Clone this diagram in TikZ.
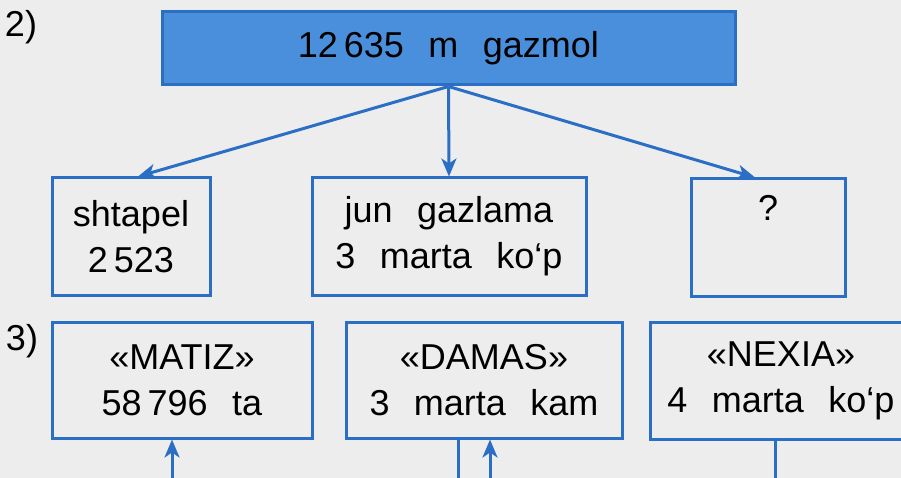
\documentclass[tikz,border=0pt]{standalone}
\usepackage{fontspec}
\setmainfont{Liberation Sans}
\usetikzlibrary{arrows.meta}
\definecolor{bfill}{HTML}{4A8FDB}
\definecolor{bline}{HTML}{2B6FC4}
\definecolor{paper}{HTML}{EDEDED}
\newcommand{\gap}{\hspace{0.68em}}
\begin{document}
\begin{tikzpicture}[x=1pt,y=-1pt,
  box/.style={draw=bline,line width=3pt,rectangle,inner sep=0pt,align=center,
    font=\fontsize{36}{46}\selectfont},
  lbl/.style={inner sep=0pt,font=\fontsize{36}{46}\selectfont},
  conn/.style={draw=bline,line width=3pt},
  arr/.style={conn,-{Stealth[length=18pt,width=15pt,inset=5pt]}}]
\fill[paper] (0,0) rectangle (901,478);
\useasboundingbox (0,0) rectangle (901,478);

\node[lbl] (n2) at (21,27) {2)};
\node[lbl] (n3) at (22,341) {3)};

\node[box,fill=bfill,minimum width=573pt,minimum height=73pt] (top) at (448.5,48.5) {12\,635\gap m\gap gazmol};

\node[box,minimum width=158pt,minimum height=117pt] (a) at (131,236.5) {shtapel\\2\,523};
\node[box,minimum width=274pt,minimum height=117pt] (b) at (449,236.5) {jun\gap gazlama\\3\gap marta\gap ko‘p};
\node[box,minimum width=154pt,minimum height=117pt] (c) at (768,237.5) {?\\\strut};

\node[box,minimum width=260pt,minimum height=116pt] (d) at (182,380) {«MATIZ»\\58\,796\gap ta};
\node[box,minimum width=276pt,minimum height=116pt] (e) at (484,380) {«DAMAS»\\3\gap marta\gap kam};
\node[box,minimum width=262pt,minimum height=117pt] (f) at (781,380.5) {«NEXIA»\\4\gap marta\gap ko‘p};

\draw[arr] (top.south) -- ([xshift=7pt]a.north);
\draw[arr] (top.south) -- (b.north);
\draw[arr] (top.south) -- ([xshift=-13pt]c.north);

\coordinate (p1) at (172,490);
\coordinate (p2) at (458,490);
\coordinate (p3) at (490,490);
\coordinate (p4) at (775,490);
\draw[arr] (p1) -- (p1 |- d.south);
\draw[conn] (p2 |- e.south) -- (p2);
\draw[arr] (p3) -- (p3 |- e.south);
\draw[conn] (p4 |- f.south) -- (p4);
\end{tikzpicture}
\end{document}
